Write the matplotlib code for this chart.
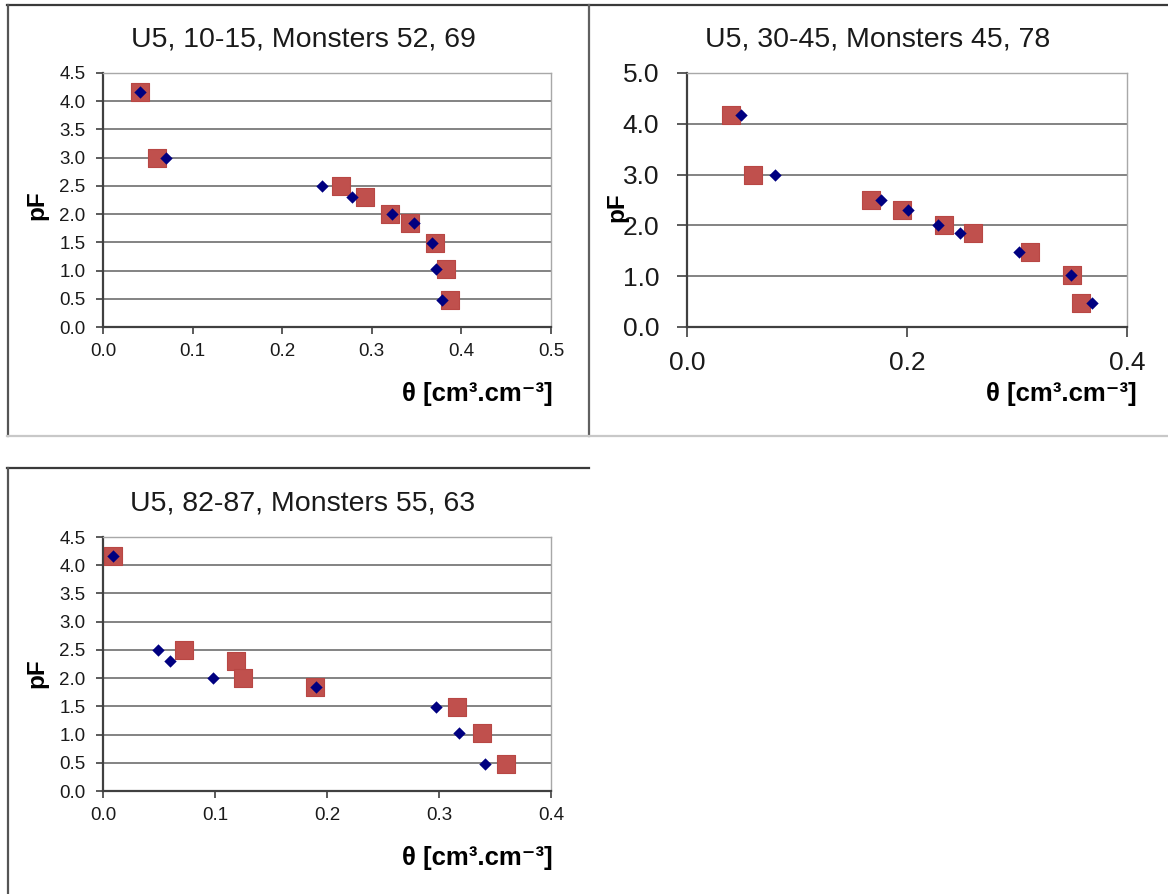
import matplotlib.pyplot as plt
from matplotlib.lines import Line2D
from matplotlib.ticker import MultipleLocator, FormatStrFormatter

plt.rcParams['font.family'] = ['Liberation Sans', 'DejaVu Sans']

# pF levels and water content per chart: diamonds (series A), squares (series B)
pf_top = [4.17, 3.0, 2.5, 2.3, 2.0, 1.85, 1.48, 1.02, 0.48]
theta_a_1 = [0.041, 0.070, 0.244, 0.278, 0.322, 0.347, 0.367, 0.372, 0.378]
theta_b_1 = [0.041, 0.060, 0.266, 0.292, 0.320, 0.343, 0.370, 0.383, 0.387]

theta_a_2 = [0.049, 0.080, 0.176, 0.201, 0.228, 0.248, 0.302, 0.349, 0.368]
theta_b_2 = [0.040, 0.060, 0.167, 0.195, 0.234, 0.260, 0.312, 0.350, 0.358]

pf_bottom = [4.17, 2.5, 2.3, 2.0, 1.85, 1.48, 1.02, 0.48]
theta_a_3 = [0.009, 0.049, 0.060, 0.098, 0.190, 0.297, 0.318, 0.341]
theta_b_3 = [0.009, 0.072, 0.119, 0.125, 0.189, 0.316, 0.338, 0.360]

titles = ['U5, 10-15, Monsters 52, 69',
          'U5, 30-45, Monsters 45, 78',
          'U5, 82-87, Monsters 55, 63']

W, H = 1168, 894
fig = plt.figure(figsize=(W / 100, H / 100), dpi=100)
fig.patch.set_facecolor('white')


def fx(px):
    return px / W


def fy(py):
    return 1 - py / H


def frame_line(x0, y0, x1, y1, color, lw=1.6):
    fig.add_artist(Line2D([fx(x0), fx(x1)], [fy(y0), fy(y1)],
                          transform=fig.transFigure, color=color, lw=lw))


# chart borders (dark top/left, light bottom)
frame_line(7, 5, 1168, 5, '#3a3a3a')
frame_line(7.5, 5, 7.5, 436, '#555555')
frame_line(588.5, 5, 588.5, 436, '#606060')
frame_line(7, 435.5, 1168, 435.5, '#c8c8c8')
frame_line(7, 468, 589, 468, '#3a3a3a')
frame_line(7.5, 468, 7.5, 894, '#555555')


def make_panel(box, theta_a, theta_b, pf, title, xmax, xstep, ymax, ystep,
               tick_fs, tick_pad_x, tick_pad_y, tlen, title_xy, ylab_xy, xlab_xy):
    l, t, r, b = box
    ax = fig.add_axes([fx(l), fy(b), fx(r - l), (b - t) / H])
    ax.scatter(theta_b, pf, marker='s', s=13.5 ** 2, color='#C0504D',
               edgecolors='#B84744', linewidths=0.8, zorder=3)
    ax.scatter(theta_a, pf, marker='D', s=6.3 ** 2, color='#000080',
               linewidths=0, zorder=4)
    ax.set_xlim(0, xmax)
    ax.set_ylim(0, ymax)
    ax.xaxis.set_major_locator(MultipleLocator(xstep))
    ax.yaxis.set_major_locator(MultipleLocator(ystep))
    ax.xaxis.set_major_formatter(FormatStrFormatter('%.1f'))
    ax.yaxis.set_major_formatter(FormatStrFormatter('%.1f'))
    ax.grid(axis='y', color='#7a7a7a', lw=1.3)
    ax.set_axisbelow(True)
    for side in ('top', 'right'):
        ax.spines[side].set_color('#a8a8a8')
        ax.spines[side].set_linewidth(1.0)
    for side in ('left', 'bottom'):
        ax.spines[side].set_color('#404040')
        ax.spines[side].set_linewidth(1.6)
    ax.tick_params(axis='x', direction='out', length=tlen, width=1.2,
                   color='#404040', labelsize=tick_fs, pad=tick_pad_x,
                   labelcolor='#1a1a1a')
    ax.tick_params(axis='y', direction='out', length=tlen, width=1.2,
                   color='#404040', labelsize=tick_fs, pad=tick_pad_y,
                   labelcolor='#1a1a1a')
    fig.text(fx(title_xy[0]), fy(title_xy[1]), title, fontsize=20.5,
             ha='center', va='center', color='#1a1a1a')
    fig.text(fx(ylab_xy[0]), fy(ylab_xy[1]), 'pF', fontsize=17.5,
             fontweight='bold', rotation=90, ha='center', va='center')
    fig.text(fx(xlab_xy[0]), fy(xlab_xy[1]), 'θ [cm³.cm⁻³]', fontsize=18.5,
             fontweight='bold', ha='right', va='center')
    return ax


make_panel((103, 73, 551, 327), theta_a_1, theta_b_1, pf_top, titles[0],
           0.5, 0.1, 4.5, 0.5, 13.5, 6.5, 7.5, 5,
           (303, 40), (37, 205), (553, 394))
make_panel((687, 73, 1127, 327), theta_a_2, theta_b_2, pf_top, titles[1],
           0.4, 0.2, 5.0, 1.0, 19, 10.5, 13.0, 7,
           (878, 40), (617, 207), (1137, 394))
make_panel((103, 537, 551, 791), theta_a_3, theta_b_3, pf_bottom, titles[2],
           0.4, 0.1, 4.5, 0.5, 13.5, 6.5, 7.5, 5,
           (303, 503), (37, 673), (553, 858))

fig.savefig('out.png', dpi=100, facecolor='white')
plt.close(fig)
